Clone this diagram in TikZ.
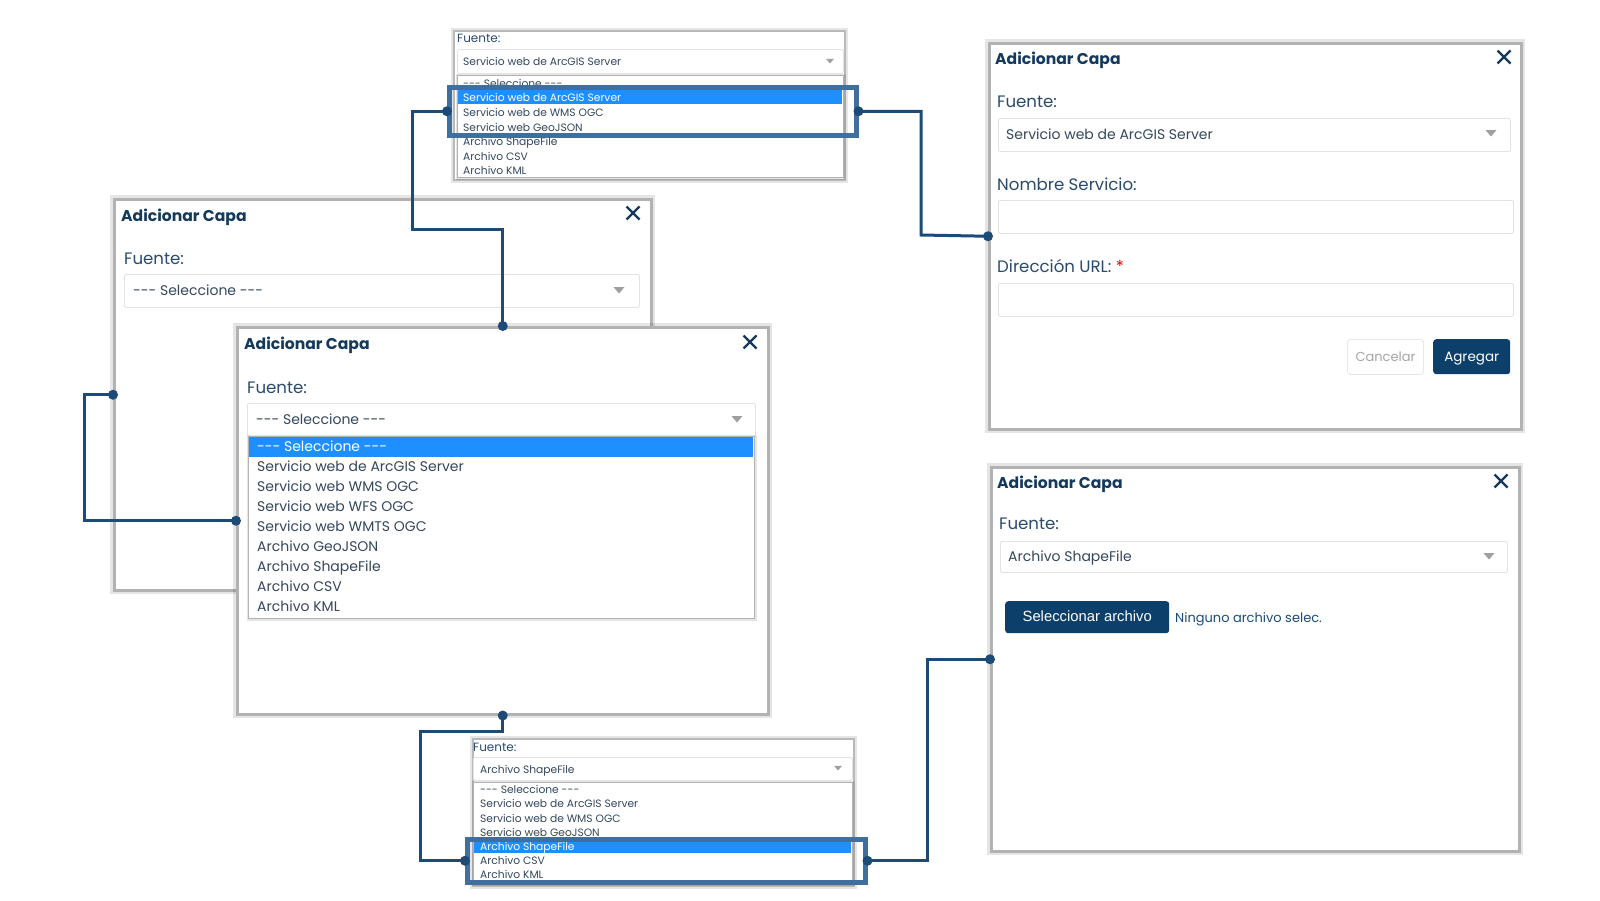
\documentclass[tikz,border=0pt]{standalone}
\usepackage{fontspec}
\setmainfont{Poppins}
\newfontfamily\btnfont{Liberation Sans}
\newcommand\tridash{-{}-{}-}
\definecolor{navy}{HTML}{1D4B77}
\definecolor{frameblue}{HTML}{416F9D}
\definecolor{titleblue}{HTML}{13395D}
\definecolor{lblblue}{HTML}{2A4B6D}
\definecolor{txt}{HTML}{34475C}
\definecolor{hl}{HTML}{1E8FFF}
\definecolor{btn}{HTML}{0C3F69}
\begin{document}
\begin{tikzpicture}[x=1pt,y=-1pt,
  dlg/.style={draw=gray!60, line width=2.5pt, fill=white, anchor=north west, inner sep=0pt,
    preaction={draw=black, opacity=0.10, line width=8pt}},
  panel/.style={draw=gray!55, line width=2pt, fill=white, anchor=north west, inner sep=0pt,
    preaction={draw=black, opacity=0.10, line width=6pt}},
  field/.style={draw=gray!22, line width=0.9pt, rounded corners=2pt, fill=white, anchor=north west, inner sep=0pt},
  listbox/.style={draw=gray!60, line width=1pt, fill=white, anchor=north west, inner sep=0pt,
    preaction={draw=black, opacity=0.10, line width=4pt}},
  hlrow/.style={fill=hl, anchor=north west, inner sep=0pt},
  txtbase/.style={anchor=west, inner sep=0pt, text height=0.95em, text depth=0pt},
  ttl/.style={txtbase, font=\bfseries\fontsize{15.6}{18}\selectfont, text=titleblue},
  lbl/.style={txtbase, font=\fontsize{16.6}{19}\selectfont, text=lblblue},
  item/.style={txtbase, font=\fontsize{14}{16}\selectfont, text=txt},
  sitem/.style={txtbase, font=\fontsize{10.7}{12}\selectfont, text=txt},
  slbl/.style={txtbase, font=\fontsize{12}{14}\selectfont, text=lblblue},
  frm/.style={draw=frameblue, line width=4.5pt, anchor=north west, inner sep=0pt},
  conn/.style={draw=navy, line width=3pt},
  dot/.style={fill=navy},
  caret/.pic={\fill[gray!75] (-5.5,-3) -- (5.5,-3) -- (0,3.5) -- cycle;},
  closex/.pic={\draw[line width=2.4pt, titleblue] (-6.5,-6.5) -- (6.5,6.5) (-6.5,6.5) -- (6.5,-6.5);},
  btnbox/.style={fill=btn, rounded corners=3pt, anchor=north west, inner sep=0pt}
]
\useasboundingbox (0,0) rectangle (1600,900);
\fill[white] (0,0) rectangle (1600,900);

% ---------- Dialog A (left, back) ----------
\node[dlg, minimum width=537pt, minimum height=391pt] (dlgA) at (113,198) {};
\node[ttl] (tA) at (121,217) {Adicionar Capa};
\pic at (633,213) {closex};
\node[lbl] (fA) at (124,260) {Fuente:};
\node[field, minimum width=515pt, minimum height=33pt] (sA) at (124,274) {};
\node[item] (sAt) at (133,291) {\tridash\ Seleccione \tridash};
\pic at (619,290) {caret};

% ---------- Dialog B (middle, front) ----------
\node[dlg, minimum width=531pt, minimum height=387pt] (dlgB) at (236,326) {};
\node[ttl] (tB) at (244,345) {Adicionar Capa};
\pic at (750,342) {closex};
\node[lbl] (fB) at (247,389) {Fuente:};
\node[field, minimum width=508pt, minimum height=33pt] (sB) at (247,403) {};
\node[item] (sBt) at (256,420) {\tridash\ Seleccione \tridash};
\pic at (737,419) {caret};
\node[listbox, minimum width=506pt, minimum height=182pt] (lB) at (248,436) {};
\node[hlrow, minimum width=504pt, minimum height=20pt] (hB) at (249,437) {};
\node[item, text=white] (iB0) at (257,447) {\tridash\ Seleccione \tridash};
\foreach \t [count=\i] in {Servicio web de ArcGIS Server,Servicio web WMS OGC,Servicio web WFS OGC,Servicio web WMTS OGC,Archivo GeoJSON,Archivo ShapeFile,Archivo CSV,Archivo KML}
  \node[item] (iB\i) at (257,{447+19.95*\i}) {\t};

% ---------- Top small panel ----------
\node[panel, minimum width=391pt, minimum height=149pt] (pT) at (453,30) {};
\node[slbl] (fT) at (457,38) {Fuente:};
\node[field, minimum width=386pt, minimum height=24pt] (sT) at (457,49) {};
\node[sitem] (sTt) at (463,61) {Servicio web de ArcGIS Server};
\pic[scale=0.7] at (830,61) {caret};
\node[listbox, minimum width=386pt, minimum height=102pt] (lT) at (457,75) {};
\node[hlrow, minimum width=384pt, minimum height=13.5pt] (hT) at (458,90) {};
\node[sitem] (iT0) at (463,82.5) {\tridash\ Seleccione \tridash};
\node[sitem, text=white] (iT1) at (463,97.1) {Servicio web de ArcGIS Server};
\foreach \t [count=\i from 2] in {Servicio web de WMS OGC,Servicio web GeoJSON,Archivo ShapeFile,Archivo CSV,Archivo KML}
  \node[sitem] (iT\i) at (463,{82.5+14.6*\i}) {\t};
\node[frm, minimum width=407pt, minimum height=48pt] (frameT) at (447,85) {};

% ---------- Dialog C (right top) ----------
\node[dlg, minimum width=532pt, minimum height=386pt] (dlgC) at (988,42) {};
\node[ttl] (tC) at (995,60) {Adicionar Capa};
\pic at (1504,57) {closex};
\node[lbl] (fC) at (997,103) {Fuente:};
\node[field, minimum width=512pt, minimum height=33pt] (sC) at (998,118) {};
\node[item] (sCt) at (1006,135) {Servicio web de ArcGIS Server};
\pic at (1491,133) {caret};
\node[lbl] (nC) at (997,186) {Nombre Servicio:};
\node[field, minimum width=515pt, minimum height=33pt] (inC1) at (998,200) {};
\node[lbl] (uC) at (997,268) {Dirección URL: \textcolor{red}{*}};
\node[field, minimum width=515pt, minimum height=33pt] (inC2) at (998,283) {};
\node[field, draw=gray!18, minimum width=76pt, minimum height=35pt, rounded corners=3pt] (bCan) at (1347,339) {};
\node[txtbase, anchor=center, font=\fontsize{13}{15}\selectfont, text=gray!70] at (bCan.center) {Cancelar};
\node[btnbox, minimum width=77pt, minimum height=35pt] (bAgr) at (1433,339) {};
\node[txtbase, anchor=center, font=\fontsize{13.5}{15}\selectfont, text=white] at (bAgr.center) {Agregar};

% ---------- Dialog D (right bottom) ----------
\node[dlg, minimum width=528pt, minimum height=384pt] (dlgD) at (990,466) {};
\node[ttl] (tD) at (997,484) {Adicionar Capa};
\pic at (1501,481) {closex};
\node[lbl] (fD) at (999,525) {Fuente:};
\node[field, minimum width=507pt, minimum height=31pt] (sD) at (1000,541) {};
\node[item] (sDt) at (1008,557) {Archivo ShapeFile};
\pic at (1489,556) {caret};
\node[btnbox, minimum width=164pt, minimum height=32pt] (bSel) at (1005,601) {};
\node[txtbase, anchor=center, font=\btnfont\fontsize{14.8}{16}\selectfont, text=white] at (bSel.center) {Seleccionar archivo};
\node[txtbase, font=\fontsize{13}{15}\selectfont, text=navy] (nD) at (1175,618) {Ninguno archivo selec.};

% ---------- Bottom small panel ----------
\node[panel, minimum width=381pt, minimum height=147pt] (pB) at (472,738) {};
\node[slbl] (fP) at (473,747) {Fuente:};
\node[field, minimum width=379pt, minimum height=23pt] (sP) at (473,757) {};
\node[sitem] (sPt) at (480,769) {Archivo ShapeFile};
\pic[scale=0.7] at (838,768) {caret};
\node[listbox, minimum width=379pt, minimum height=101pt] (lP) at (473,782) {};
\node[hlrow, minimum width=377pt, minimum height=13.5pt] (hP) at (474,839) {};
\node[sitem] (iP0) at (480,789) {\tridash\ Seleccione \tridash};
\foreach \t [count=\i] in {Servicio web de ArcGIS Server,Servicio web de WMS OGC,Servicio web GeoJSON}
  \node[sitem] (iP\i) at (480,{789+14.2*\i}) {\t};
\node[sitem, text=white] (iP4) at (480,845.8) {Archivo ShapeFile};
\node[sitem] (iP5) at (480,860) {Archivo CSV};
\node[sitem] (iP6) at (480,874.2) {Archivo KML};
\node[frm, minimum width=398pt, minimum height=43pt] (frameB) at (465,837) {};

% ---------- Connectors ----------
\coordinate (j1) at (412,229);
\coordinate (j2) at (921,235);
\coordinate (j3) at (84,450);
\coordinate (j4) at (420,731);
\coordinate (j5) at (927,700);
\draw[conn] (frameT.west) -| (j1) -| (dlgB.north);
\draw[conn] (frameT.east) -| (j2) -- (dlgC.west);
\draw[conn] (dlgA.west) -| (j3) |- (dlgB.west);
\draw[conn] (dlgB.south) |- (j4) |- (frameB.west);
\draw[conn] (frameB.east) -| (j5) |- (dlgD.west);
\foreach \p in {frameT.west,frameT.east,dlgB.north,dlgC.west,dlgA.west,dlgB.west,dlgB.south,frameB.west,frameB.east,dlgD.west}
  \fill[dot] (\p) circle (5pt);
\end{tikzpicture}
\end{document}
